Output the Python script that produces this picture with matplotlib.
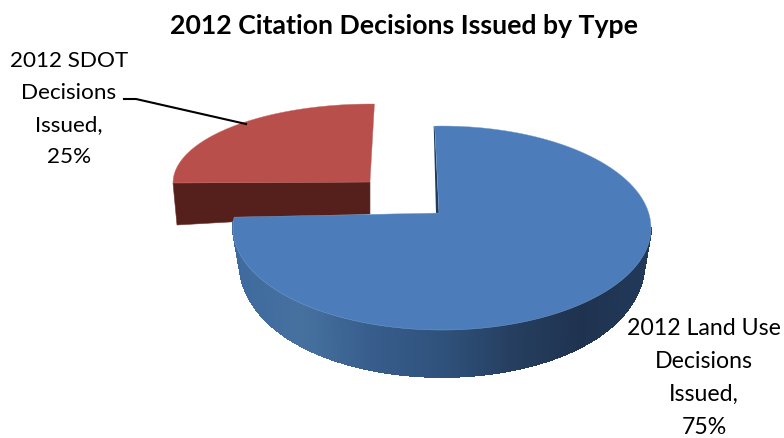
import numpy as np
import matplotlib
matplotlib.use("Agg")
import matplotlib.pyplot as plt
from matplotlib.colors import LinearSegmentedColormap
from matplotlib.collections import PolyCollection
from matplotlib.patches import Polygon

title = "2012 Citation Decisions Issued by Type"
categories = ["2012 Land Use\nDecisions\nIssued,\n75%", "2012 SDOT\nDecisions\nIssued,\n25%"]
values = [75, 25]

plt.rcParams["font.family"] = ["Lato", "DejaVu Sans"]
fig = plt.figure(figsize=(7.84, 4.38), dpi=100)
ax = fig.add_axes([0, 0, 1, 1])
ax.set_xlim(0, 784)
ax.set_ylim(438, 0)
ax.axis("off")

total = sum(values)
land_frac = values[0] / total
sdot_frac = values[1] / total


def rim(cx, cy, rx, ry, a0, a1, n=300):
    t = np.radians(np.linspace(a0, a1, n))
    return np.column_stack([cx + rx * np.cos(t), cy - ry * np.sin(t)])


# ---- SDOT slice (exploded, back left)
s_start = 89
s_end = s_start + 360 * sdot_frac + 1
s_arc = rim(371, 183, 198, 79, s_start, s_end)
s_apex = np.array([370, 182])
s_depth_l, s_depth_r = 42, 32
wall = np.array([s_arc[-1], s_apex, s_apex + [0, s_depth_r], s_arc[-1] + [4, s_depth_l]])
ax.add_patch(Polygon(wall, closed=True, fc="#55201c", ec="#6b3330", lw=0.4, zorder=1))
ax.add_patch(Polygon(np.vstack([s_apex, s_arc]), closed=True, fc="#b94f4b", ec="#c4706d", lw=0.3, zorder=2))
ax.plot([124, 136, 246], [99, 99, 124], color="black", lw=1.5, zorder=3)

# ---- Land Use slice (front right)
l_start = 92
l_end = l_start - 360 * land_frac * 1.03
cx, cy, rx, ry, depth = 442, 228, 209, 102, 47
l_arc = rim(cx, cy, rx, ry, l_start, l_end, 500)
l_apex = np.array([439, 213])

# inner dark edge by the top cut
ax.add_patch(Polygon([l_arc[0], l_apex, l_apex + [-3, 0], l_arc[0] + [-1, 0]], closed=True,
                     fc="#1f3a5c", ec="none", zorder=4))

# side wall with horizontal shading
wall_cmap = LinearSegmentedColormap.from_list(
    "wall", ["#3e6a9e", "#46719f", "#375d8c", "#2f527c", "#263f60", "#1f3350", "#22395a"])
lower = np.vstack([rim(cx, cy, rx, ry, 176, 180, 8), rim(cx, cy, rx, ry, 180, 360, 400)[1:]])
shrink = 1 - 0.03 * np.abs((lower[:, 0] - cx) / rx) ** 3
nx = (lower[:, 0] - cx) / rx
d = depth * (0.72 + 0.28 * np.sqrt(np.clip(1 - nx ** 2, 0, None)))
bottom = np.column_stack([cx + (lower[:, 0] - cx) * shrink, lower[:, 1] + d])

# antialiased base so the lower outline stays smooth
ax.add_patch(Polygon(np.vstack([lower, bottom[::-1]]), closed=True, fc="#2f527c", ec="#2f527c", lw=0.5, zorder=4.5))
quads = [[lower[i], lower[i + 1], bottom[i + 1], bottom[i]] for i in range(len(lower) - 1)]
shades = 0.5 + 0.5 * nx[:-1]
pc = PolyCollection(quads, array=shades, cmap=wall_cmap, edgecolors="face", linewidths=0.6,
                    antialiaseds=False, zorder=5)
pc.set_clim(0, 1)
ax.add_collection(pc)

ax.add_patch(Polygon(np.vstack([l_apex, l_arc]), closed=True, fc="#4c7dba", ec="#7ea3d0", lw=0.3, zorder=6))

# ---- Text
ax.text(404, 26, title, ha="center", va="center", fontsize=19.2, fontweight="bold", color="black", zorder=10)
ax.text(69, 109, categories[1], ha="center", va="center", fontsize=16.2, color="black", linespacing=1.76, zorder=10)
ax.text(704, 378, categories[0], ha="center", va="center", fontsize=16.7, color="black", linespacing=1.7, zorder=10)

fig.savefig("out.png", dpi=100)
